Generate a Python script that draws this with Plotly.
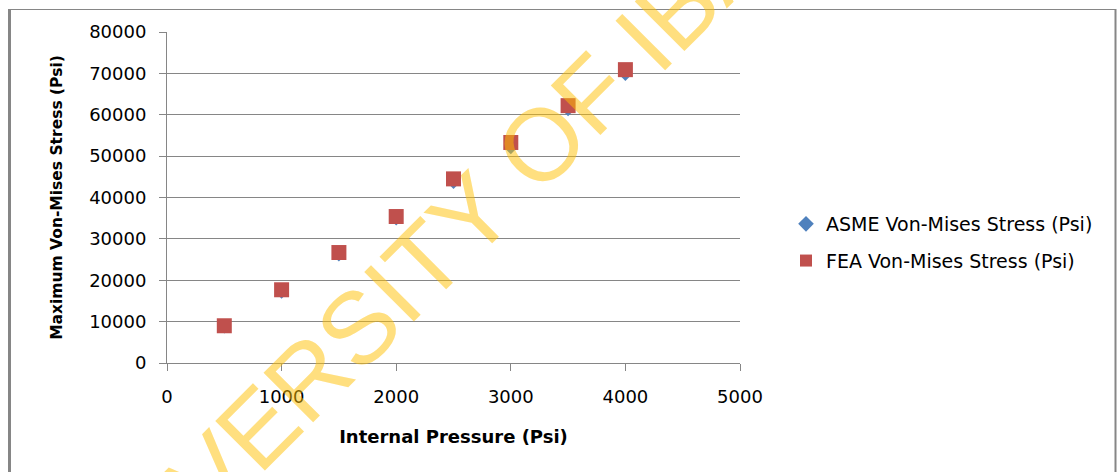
import plotly.graph_objects as go

# Internal pressure (Psi) and resulting maximum Von-Mises stress (Psi)
pressure = [500, 1000, 1500, 2000, 2500, 3000, 3500, 4000]
asme_stress = [8400, 16800, 25800, 34500, 43300, 51700, 60900, 69400]
fea_stress = [9000, 17700, 26700, 35400, 44500, 53300, 62200, 70900]

x_ticks = [0, 1000, 2000, 3000, 4000, 5000]
y_ticks = [0, 10000, 20000, 30000, 40000, 50000, 60000, 70000, 80000]

W, H = 1117, 472
L, R, T, B = 167, 377, 32, 109
pw, ph = W - L - R, H - T - B

def px_x(p):
    return (p - L) / pw

def px_y(p):
    return (H - B - p) / ph

grid = "#868686"
font_main = "DejaVu Sans"

fig = go.Figure()
fig.add_trace(go.Scatter(
    x=pressure, y=asme_stress, mode="markers",
    name="ASME Von-Mises Stress (Psi)", legendgroup="asme",
    marker=dict(symbol="diamond", size=8, color="#4F81BD"),
))
fig.add_trace(go.Scatter(
    x=pressure, y=fea_stress, mode="markers",
    name="FEA Von-Mises Stress (Psi)", legendgroup="fea",
    marker=dict(symbol="square", size=15, color="#C0504D"),
))

# chart-area frame
frame = dict(type="line", xref="paper", yref="paper", line=dict(color=grid))
fig.add_shape(**frame, x0=px_x(9.5), x1=px_x(9.5), y0=px_y(9), y1=px_y(480),
              line_width=3)
fig.add_shape(**frame, x0=px_x(8), x1=px_x(1115.5), y0=px_y(9.5), y1=px_y(9.5),
              line_width=1.2)
fig.add_shape(**frame, x0=px_x(1115.5), x1=px_x(1115.5), y0=px_y(9), y1=px_y(480),
              line_width=2)

# watermark
fig.add_annotation(
    text="UNIVERSITY OF IBADAN", xref="paper", yref="paper",
    x=px_x(482), y=px_y(204), xanchor="center", yanchor="middle",
    showarrow=False, textangle=-45,
    font=dict(family="Liberation Sans", size=102, color="rgba(255,192,0,0.5)"),
)

fig.update_layout(
    width=W, height=H,
    margin=dict(l=L, r=R, t=T, b=B, autoexpand=False),
    paper_bgcolor="white", plot_bgcolor="white",
    font=dict(family=font_main, size=18, color="#000000"),
    showlegend=True,
    legend=dict(
        x=px_x(786), y=px_y(205), xanchor="left", yanchor="top",
        font=dict(family=font_main, size=19, color="#000000"),
        bgcolor="rgba(0,0,0,0)", tracegroupgap=9, itemsizing="constant",
        itemwidth=30,
    ),
    xaxis=dict(
        range=[0, 5000], tickvals=x_ticks, ticktext=[str(v) for v in x_ticks],
        showgrid=False, zeroline=False, showline=True, linecolor=grid, linewidth=1,
        ticks="outside", ticklen=7, tickcolor=grid, ticklabelstandoff=10,
        tickfont=dict(size=18),
        title=dict(text="<b>Internal Pressure (Psi)</b>", standoff=24,
                   font=dict(family=font_main, size=18)),
    ),
    yaxis=dict(
        range=[0, 80000], tickvals=y_ticks, ticktext=[str(v) for v in y_ticks],
        showgrid=True, gridcolor=grid, gridwidth=1, zeroline=False,
        showline=True, linecolor=grid, linewidth=1,
        ticks="outside", ticklen=7, tickcolor=grid, ticklabelstandoff=9,
        tickfont=dict(size=18),
        title=dict(text="<b>Maximum Von-Mises Stress (Psi)</b>", standoff=22,
                   font=dict(family=font_main, size=15.5)),
    ),
)

fig.write_html("out.html")
